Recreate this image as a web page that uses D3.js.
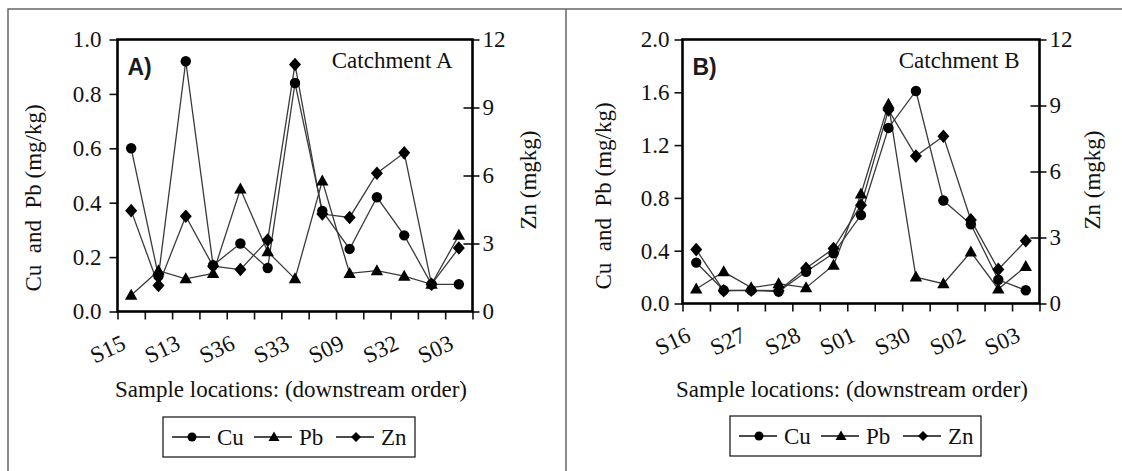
<!DOCTYPE html>
<html><head><meta charset="utf-8">
<script src="https://cdn.jsdelivr.net/npm/d3@7"></script>
<style>
body{margin:0;background:#fff}
svg{display:block}
</style>
</head><body>
<svg id="chart" width="1122" height="471"></svg>
<script>
// ---- Data ----
const categoriesA = ["S15","","S13","","S36","","S33","","S09","","S32","","S03"];
const cuA = [0.60, 0.13, 0.92, 0.17, 0.25, 0.16, 0.84, 0.37, 0.23, 0.42, 0.28, 0.10, 0.10];
const pbA = [0.06, 0.15, 0.12, 0.14, 0.45, 0.22, 0.12, 0.48, 0.14, 0.15, 0.13, 0.10, 0.28];
const znA = [4.45, 1.15, 4.2, 2.0, 1.85, 3.15, 10.9, 4.3, 4.15, 6.1, 7.0, 1.2, 2.8];

const categoriesB = ["S16","","S27","","S28","","S01","","S30","","S02","","S03"];
const cuB = [0.31, 0.10, 0.10, 0.09, 0.24, 0.38, 0.67, 1.33, 1.61, 0.78, 0.60, 0.18, 0.10];
const pbB = [0.11, 0.24, 0.12, 0.15, 0.12, 0.29, 0.83, 1.51, 0.20, 0.15, 0.39, 0.11, 0.28];
const znB = [2.45, 0.58, 0.60, 0.58, 1.60, 2.50, 4.47, 8.80, 6.70, 7.60, 3.80, 1.55, 2.85];

const leftTicksA = [0, 0.2, 0.4, 0.6, 0.8, 1.0];
const leftTicksB = [0, 0.4, 0.8, 1.2, 1.6, 2.0];
const rightTicks = [0, 3, 6, 9, 12];
const seriesNames = ["Cu", "Pb", "Zn"];

// ---- Drawing ----
const svg = d3.select("#chart");
const FS = 23;
const SERIF = '"Liberation Serif", "Times New Roman", serif';
const SANS = '"Liberation Sans", Arial, sans-serif';

svg.append("path").attr("d","M8,471 L8,9 L1122,9 M566,9 L566,471")
  .attr("fill","none").attr("stroke","#666").attr("stroke-width",1.5);

const shapes = {
  Cu: "M0,-5.2A5.2,5.2 0 1,1 0,5.2A5.2,5.2 0 1,1 0,-5.2Z",
  Pb: "M0,-6.5L6.2,4.5L-6.2,4.5Z",
  Zn: "M0,-6.8L6,0L0,6.8L-6,0Z"
};
const legShapes = {
  Cu: "M0,-4.5A4.5,4.5 0 1,1 0,4.5A4.5,4.5 0 1,1 0,-4.5Z",
  Pb: "M0,-5.5L5.5,4L-5.5,4Z",
  Zn: "M0,-5L5,0L0,5L-5,0Z"
};

function txt(sel, size) {
  return sel.style("font-family", SERIF).style("font-size", (size || FS) + "px").attr("fill", "#111");
}

function panel(cfg) {
  const g = svg.append("g");
  const idx = d3.range(cfg.categories.length);
  const x = d3.scaleBand().domain(idx).range([cfg.x0, cfg.x1]).padding(0);
  const yL = d3.scaleLinear().domain([0, cfg.leftMax]).range([cfg.yBot, cfg.yTop]);
  const yR = d3.scaleLinear().domain([0, 12]).range([cfg.yBot, cfg.yTop]);
  const cx = i => x(i) + x.bandwidth() / 2;

  const la = g.append("g").attr("transform", `translate(${cfg.x0},0)`)
    .call(d3.axisLeft(yL).tickValues(cfg.leftTicks).tickFormat(d3.format(".1f")).tickSize(8).tickPadding(cfg.lpad));
  const ra = g.append("g").attr("transform", `translate(${cfg.x1},0)`)
    .call(d3.axisRight(yR).tickValues(rightTicks).tickSize(7).tickPadding(3));
  ra.selectAll(".tick line").attr("x1", d => (d > 0 && d < 12) ? -9 : 0);
  const bounds = d3.range(cfg.categories.length + 1);
  const xb = d3.scaleLinear().domain([0, cfg.categories.length]).range([cfg.x0, cfg.x1]);
  g.append("g").attr("transform", `translate(0,${cfg.yBot})`)
    .call(d3.axisBottom(xb).tickValues(bounds).tickFormat("").tickSize(8))
    .select(".domain").remove();
  [la, ra].forEach(a => a.select(".domain").remove());
  g.selectAll(".tick line").attr("stroke", "#111").attr("stroke-width", 1.6);
  txt(g.selectAll(".tick text"));

  g.append("rect").attr("x", cfg.x0).attr("y", cfg.yTop).attr("width", cfg.x1 - cfg.x0).attr("height", cfg.yBot - cfg.yTop)
    .attr("fill", "none").attr("stroke", "#000").attr("stroke-width", 2.6);

  txt(g.selectAll("text.cat").data(idx.filter(i => cfg.categories[i] !== "")).enter().append("text")
    .attr("class", "cat")
    .attr("transform", i => `translate(${cx(i) - 4},${cfg.yBot + 37}) rotate(-25)`)
    .attr("text-anchor", "end")
    .text(i => cfg.categories[i]));

  const data = [
    {name: "Cu", vals: cfg.cu, y: yL},
    {name: "Pb", vals: cfg.pb, y: yL},
    {name: "Zn", vals: cfg.zn, y: yR}
  ];
  data.forEach(s => {
    const line = d3.line().x((d, i) => cx(i)).y(d => s.y(d));
    g.append("path").attr("d", line(s.vals)).attr("fill", "none").attr("stroke", "#3a3a3a").attr("stroke-width", 1.3);
  });
  data.forEach(s => {
    g.selectAll(null).data(s.vals).enter().append("path")
      .attr("d", shapes[s.name]).attr("transform", (d, i) => `translate(${cx(i)},${s.y(d)})`)
      .attr("fill", "#000");
  });

  g.append("text").attr("x", cfg.x0 + 10).attr("y", cfg.yTop + 35)
    .style("font-family", SANS).style("font-weight", "900").style("font-size", "23px")
    .attr("fill", "#1a1a1a").text(cfg.letter);
  txt(g.append("text").attr("x", cfg.x1 - 20).attr("y", cfg.yTop + 28).attr("text-anchor", "end").text(cfg.title));

  txt(g.append("text").attr("transform", `translate(${cfg.ltx},${cfg.lty}) rotate(-90)`).attr("text-anchor", "middle")
    .attr("dominant-baseline", "central").style("white-space", "pre").text("Cu  and  Pb (mg/kg)"));
  txt(g.append("text").attr("transform", `translate(${cfg.rtx},${cfg.rty}) rotate(-90)`).attr("text-anchor", "middle")
    .attr("dominant-baseline", "central").text("Zn (mgkg)"));
  txt(g.append("text").attr("x", cfg.xtx).attr("y", 397).attr("text-anchor", "middle")
    .text("Sample locations: (downstream order)"));

  const lg = g.append("g").attr("transform", `translate(${cfg.legX},${cfg.legY})`);
  lg.append("rect").attr("x", 0).attr("y", 0).attr("width", cfg.legW).attr("height", 40)
    .attr("fill", "#fff").attr("stroke", "#222").attr("stroke-width", 1.3);
  seriesNames.forEach((n, k) => {
    const ox = 9 + k * 82;
    lg.append("line").attr("x1", ox).attr("x2", ox + 38).attr("y1", 20).attr("y2", 20)
      .attr("stroke", "#111").attr("stroke-width", 1.3);
    lg.append("path").attr("d", legShapes[n]).attr("transform", `translate(${ox + 20},20)`).attr("fill", "#000");
    txt(lg.append("text").attr("x", ox + 45).attr("y", 28).text(n));
  });
}

panel({
  categories: categoriesA, cu: cuA, pb: pbA, zn: znA,
  x0: 117.5, x1: 472.5, yTop: 39.5, yBot: 311.5, leftMax: 1.0, leftTicks: leftTicksA, lpad: 8,
  letter: "A)", title: "Catchment A",
  ltx: 33, lty: 198, rtx: 528, rty: 180, xtx: 291,
  legX: 163, legY: 417, legW: 252
});
panel({
  categories: categoriesB, cu: cuB, pb: pbB, zn: znB,
  x0: 682.5, x1: 1039.5, yTop: 39.5, yBot: 303.5, leftMax: 2.0, leftTicks: leftTicksB, lpad: 5,
  letter: "B)", title: "Catchment B",
  ltx: 603, lty: 196, rtx: 1092, rty: 180, xtx: 852,
  legX: 730, legY: 416, legW: 251
});
</script>
</body></html>
